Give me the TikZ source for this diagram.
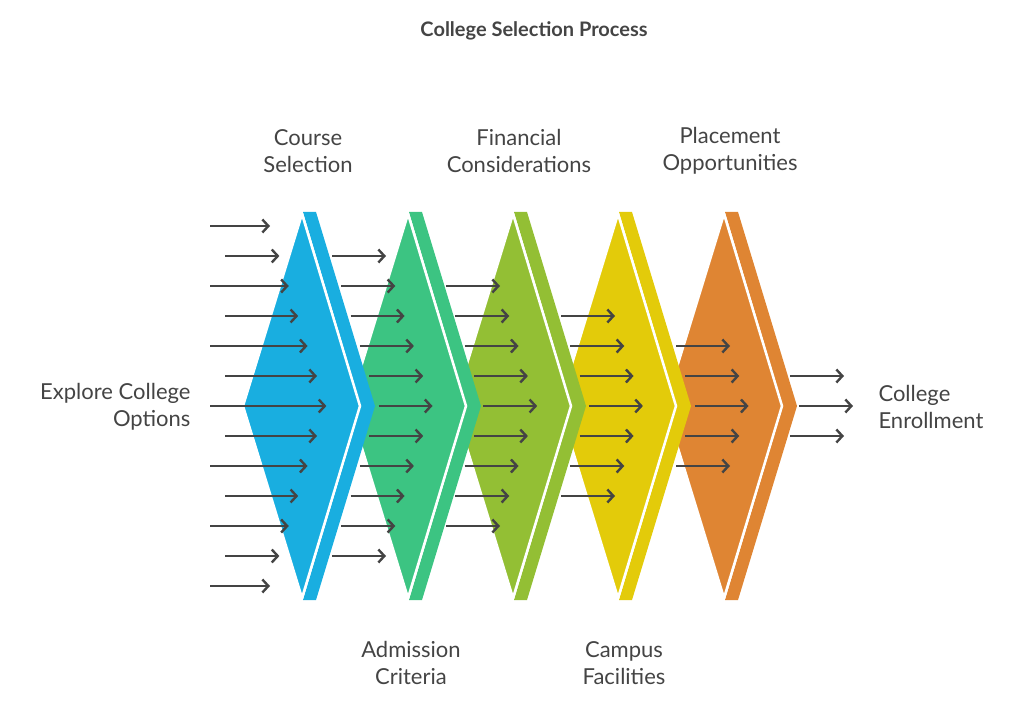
\documentclass[tikz,border=0pt]{standalone}
\usepackage{fontspec}
\setmainfont{Lato}
\usetikzlibrary{arrows.meta}
\definecolor{cA}{HTML}{19AEE0}
\definecolor{cB}{HTML}{3CC482}
\definecolor{cC}{HTML}{93BF34}
\definecolor{cD}{HTML}{E3CB0A}
\definecolor{cE}{HTML}{DF8533}
\definecolor{ink}{HTML}{444444}
\begin{document}
\begin{tikzpicture}[x=1pt,y=-1pt,
  arr/.style={draw=ink,line width=2.4pt,-{Straight Barb[length=6pt,width=13pt,line width=2.4pt]}},
  lbl/.style={text=ink,font=\fontsize{22}{27}\selectfont,align=center},
]
\useasboundingbox (0,0) rectangle (1024,708);
\node[text=ink,font=\bfseries\fontsize{20}{24}\selectfont] (title) at (534,31) {College Selection Process};
% stages, right to left
\foreach \T/\c in {724/cE,618/cD,513/cC,408/cB,302/cA}{
  \fill[\c] (\T+59,406) -- (\T-59,406) -- (\T,214) -- cycle;
  \fill[\c] (\T+1,212) -- (\T+14,212) -- (\T+73,406) -- (\T+14,600) -- (\T+1,600) -- (\T+59,406) -- cycle;
  \filldraw[fill=\c,draw=white,line width=2.5pt,line join=miter] (\T,214) -- (\T+58,406) -- (\T,598) -- (\T-59,406) -- cycle;
}
% arrow set 0
\foreach \i in {0,...,12}{
  \pgfmathsetmacro\m{min(\i,12-\i)}
  \pgfmathsetmacro\s{ifthenelse(mod(\i,2)==0,210,225)}
  \coordinate (a0s\i) at (\s,226+30*\i);
  \coordinate (a0e\i) at (270+9.4*\m,226+30*\i);
  \draw[arr] (a0s\i) -- (a0e\i);
}
% sets 1-4
\foreach \k/\n/\y/\b in {1/10/256/332,2/8/286/446,3/6/316/561,4/4/346/676}{
  \foreach \i in {0,...,\n}{
    \pgfmathsetmacro\m{min(\i,\n-\i)}
    \coordinate (s\k s\i) at (\b+9.3*\m,\y+30*\i);
    \coordinate (s\k e\i) at (\b+9.3*\m+54,\y+30*\i);
    \draw[arr] (s\k s\i) -- (s\k e\i);
  }
}
\coordinate (f1) at (790,376); \coordinate (g1) at (844,376);
\coordinate (f2) at (799,406); \coordinate (g2) at (853,406);
\coordinate (f3) at (790,436); \coordinate (g3) at (844,436);
\draw[arr] (f1) -- (g1); \draw[arr] (f2) -- (g2); \draw[arr] (f3) -- (g3);
\node[lbl] (course) at (308,151) {Course\\Selection};
\node[lbl] (fin) at (519,151) {Financial\\Considerations};
\node[lbl] (place) at (730,151) {Placement\\Opportunities};
\node[lbl] (adm) at (411,663) {Admission\\Criteria};
\node[lbl] (camp) at (624,663) {Campus\\Facilities};
\node[lbl,align=right,anchor=east] (explore) at (194,407) {Explore College\\Options};
\node[lbl,align=left,anchor=west] (enroll) at (875,407) {College\\Enrollment};
\end{tikzpicture}
\end{document}
